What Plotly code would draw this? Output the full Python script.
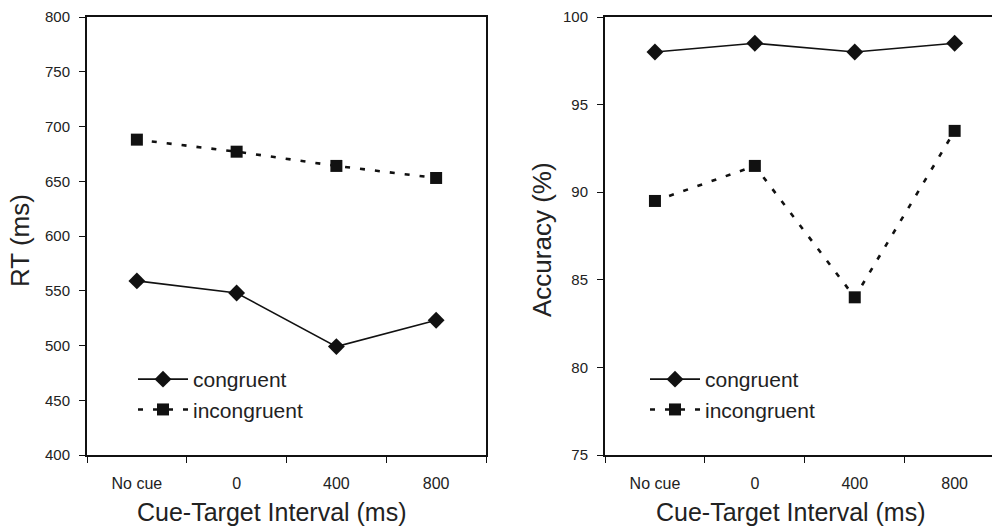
import plotly.graph_objects as go

categories = ["No cue", "0", "400", "800"]
rt_congruent = [559, 548, 499, 523]
rt_incongruent = [688, 677, 664, 653]
acc_congruent = [98.0, 98.5, 98.0, 98.5]
acc_incongruent = [89.5, 91.5, 84.0, 93.5]

FONT = "Liberation Sans, Arial, sans-serif"
INK = "#111111"
TXT = "#222222"

fig = go.Figure()

def add_pair(cong, incong, xa, ya, leg):
    fig.add_trace(go.Scatter(
        x=categories, y=cong, name="congruent", xaxis=xa, yaxis=ya, legend=leg,
        mode="lines+markers",
        line=dict(color=INK, width=1.6),
        marker=dict(symbol="diamond", size=13, color=INK),
    ))
    fig.add_trace(go.Scatter(
        x=categories, y=incong, name="incongruent", xaxis=xa, yaxis=ya, legend=leg,
        mode="lines+markers",
        line=dict(color=INK, width=2.6, dash="5px,10px"),
        marker=dict(symbol="square", size=12, color=INK),
    ))

add_pair(rt_congruent, rt_incongruent, "x", "y", "legend")
add_pair(acc_congruent, acc_incongruent, "x2", "y2", "legend2")

W, H = 992, 528
L, R, T, B = 87, 0, 17, 73
pw = W - L - R
ph = H - T - B

def px_x(p):
    return (p - L) / pw

def px_y(p):
    return (H - B - p) / ph

xcommon = dict(
    type="category", showline=True, linecolor=INK, linewidth=1.5, mirror=True,
    ticks="outside", ticklen=6, tickwidth=1.2, tickcolor=INK, tickson="boundaries",
    showgrid=False, zeroline=False, ticklabelstandoff=13,
    tickfont=dict(family=FONT, size=16, color=TXT),
)
ycommon = dict(
    showline=True, linecolor=INK, linewidth=2, ticks="outside", ticklen=6,
    tickwidth=1.2, tickcolor=INK, showgrid=False, zeroline=False,
    ticklabelstandoff=6, tickfont=dict(family=FONT, size=15, color=TXT),
)

legend_font = dict(family=FONT, size=21, color=TXT)

fig.update_layout(
    width=W, height=H,
    margin=dict(l=L, r=R, t=T, b=B, autoexpand=False),
    paper_bgcolor="white", plot_bgcolor="white",
    font=dict(family=FONT, color=TXT),
    xaxis=dict(domain=[0, px_x(486)], range=[-0.5, 3.5], anchor="y", **xcommon),
    yaxis=dict(domain=[0, 1], range=[400, 800], dtick=50, anchor="x", mirror=True, **ycommon),
    xaxis2=dict(domain=[px_x(605), 1], range=[-0.5, -0.5 + (W - 605) / 99.9], anchor="y2", **xcommon),
    yaxis2=dict(domain=[0, 1], range=[75, 100], dtick=5, anchor="x2", mirror=False, **ycommon),
    legend=dict(x=px_x(133), y=px_y(359), xanchor="left", yanchor="top",
                bgcolor="rgba(0,0,0,0)", font=legend_font,
                itemwidth=50, tracegroupgap=0),
    legend2=dict(x=px_x(645), y=px_y(359), xanchor="left", yanchor="top",
                 bgcolor="rgba(0,0,0,0)", font=legend_font,
                 itemwidth=50, tracegroupgap=0),
    showlegend=True,
    annotations=[
        dict(text="Cue-Target Interval (ms)", xref="paper", yref="paper",
             x=px_x(272), y=px_y(512), xanchor="center", yanchor="middle",
             showarrow=False, font=dict(family=FONT, size=25, color=TXT)),
        dict(text="Cue-Target Interval (ms)", xref="paper", yref="paper",
             x=px_x(791), y=px_y(512), xanchor="center", yanchor="middle",
             showarrow=False, font=dict(family=FONT, size=25, color=TXT)),
        dict(text="RT (ms)", xref="paper", yref="paper", textangle=-90,
             x=px_x(20), y=px_y(241), xanchor="center", yanchor="middle",
             showarrow=False, font=dict(family=FONT, size=26, color=TXT)),
        dict(text="Accuracy (%)", xref="paper", yref="paper", textangle=-90,
             x=px_x(542), y=px_y(240), xanchor="center", yanchor="middle",
             showarrow=False, font=dict(family=FONT, size=26, color=TXT)),
    ],
)

fig.write_html(
    "out.html",
    config={"displayModeBar": False},
    post_script="document.body.style.margin='0';document.body.style.overflow='hidden';",
)
